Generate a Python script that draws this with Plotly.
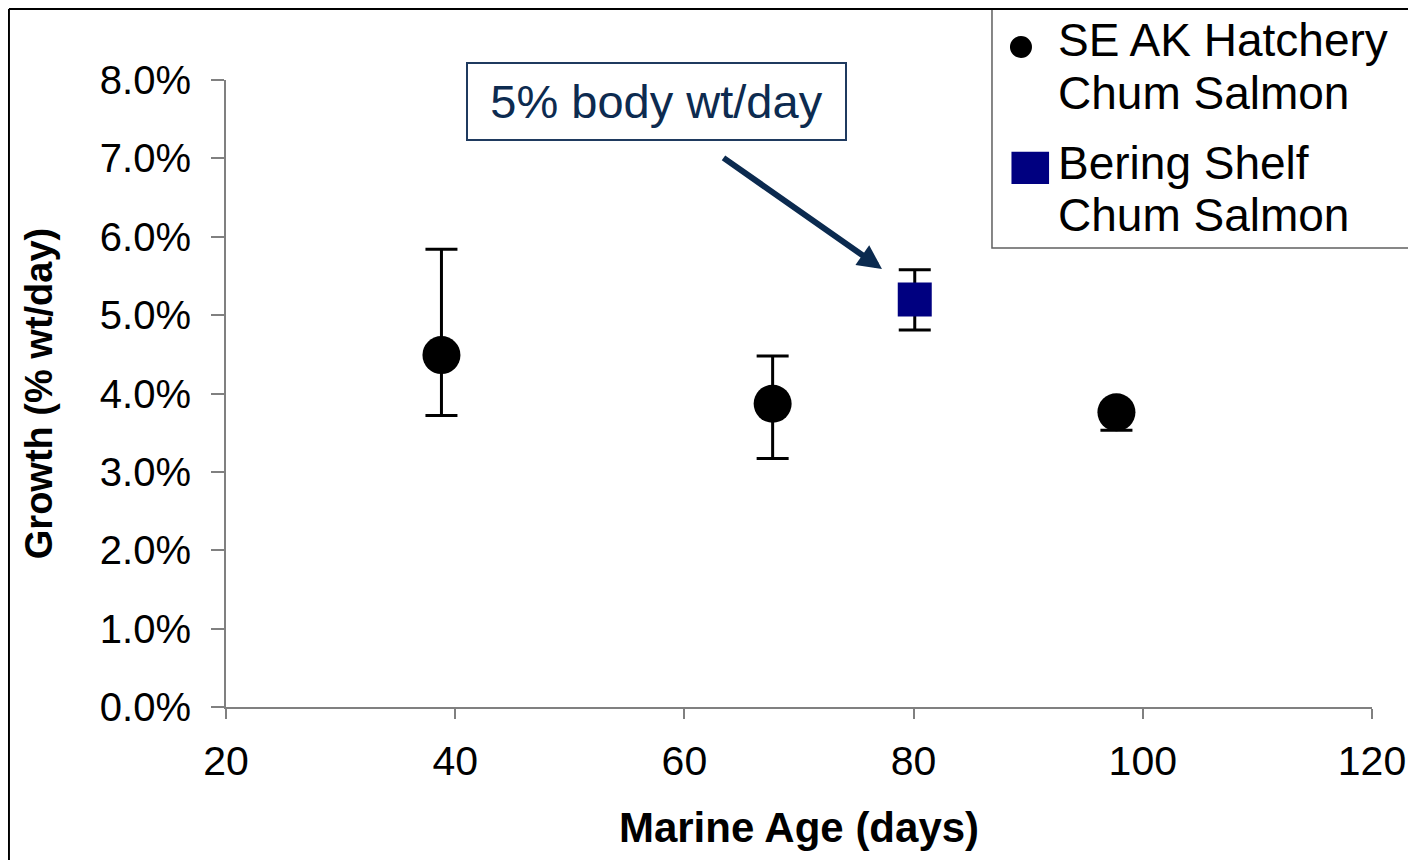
import plotly.graph_objects as go

# ---- data ----
hatchery_age = [38.8, 67.7, 97.7]
hatchery_growth = [0.0449, 0.0387, 0.0376]
hatchery_err_plus = [0.0135, 0.0061, 0.0009]
hatchery_err_minus = [0.0077, 0.0070, 0.0023]

bering_age = [80.1]
bering_growth = [0.0520]
bering_err_plus = [0.0038]
bering_err_minus = [0.0039]

x_ticks = [20, 40, 60, 80, 100, 120]
y_ticks = [0.0, 0.01, 0.02, 0.03, 0.04, 0.05, 0.06, 0.07, 0.08]

legend_lines = ["SE AK Hatchery", "Chum Salmon", "Bering Shelf", "Chum Salmon"]

FONT = "Liberation Sans, Arial, sans-serif"
NAVY_TXT = "#0d2b50"
NAVY = "#000080"

fig = go.Figure()
fig.add_trace(go.Scatter(
    x=hatchery_age, y=hatchery_growth, mode="markers",
    name="SE AK Hatchery Chum Salmon",
    marker=dict(symbol="circle", size=38, color="black"),
    error_y=dict(type="data", symmetric=False, array=hatchery_err_plus,
                 arrayminus=hatchery_err_minus, color="black", thickness=3, width=16),
))
fig.add_trace(go.Scatter(
    x=bering_age, y=bering_growth, mode="markers",
    name="Bering Shelf Chum Salmon",
    marker=dict(symbol="square", size=34, color=NAVY),
    error_y=dict(type="data", symmetric=False, array=bering_err_plus,
                 arrayminus=bering_err_minus, color="black", thickness=3, width=16),
))

fig.update_xaxes(
    range=[20, 120], tickvals=x_ticks, showgrid=False, zeroline=False,
    showline=True, linecolor="#808080", linewidth=2,
    ticks="outside", ticklen=10, tickwidth=1.5, tickcolor="#808080",
    tickfont=dict(family=FONT, size=41, color="black"), ticklabelstandoff=7,
    title=dict(text="<b>Marine Age (days)</b>", font=dict(family=FONT, size=42, color="black"),
               standoff=29),
)
fig.update_yaxes(
    range=[0, 0.08], tickvals=y_ticks, tickformat=".1%", showgrid=False, zeroline=False,
    showline=True, linecolor="#808080", linewidth=2,
    ticks="outside", ticklen=13, tickwidth=1.5, tickcolor="#808080",
    tickfont=dict(family=FONT, size=40, color="black"), ticklabelstandoff=12,
    title=dict(text="<b>Growth (% wt/day)</b>", font=dict(family=FONT, size=38, color="black"),
               standoff=36),
)

# annotation box
fig.add_annotation(
    x=57.57, y=0.07726, xref="x", yref="y", text="5% body wt/day", showarrow=False,
    font=dict(family=FONT, size=47, color=NAVY_TXT),
    bordercolor="#1f3a5f", borderwidth=2, bgcolor="white",
    width=375, height=73, align="center", valign="middle",
)
# arrow
fig.add_annotation(
    x=77.24, y=0.0559, ax=63.28, ay=0.0702, xref="x", yref="y", axref="x", ayref="y",
    text="", showarrow=True, arrowhead=2, arrowsize=0.8, arrowwidth=6,
    arrowcolor="#0b2a4f", standoff=0,
)

# outer frame (top and left edges)
TOP = 1.1132
LEFT = -0.1894
fig.add_shape(type="line", xref="paper", yref="paper", x0=LEFT, x1=1.2, y0=TOP, y1=TOP,
              line=dict(color="black", width=2))
fig.add_shape(type="line", xref="paper", yref="paper", x0=LEFT, x1=LEFT, y0=TOP, y1=-0.4,
              line=dict(color="black", width=2))

# legend box and symbols
fig.add_shape(type="rect", xref="paper", yref="paper", x0=0.6684, x1=1.06, y0=0.7321, y1=TOP,
              line=dict(color="#606060", width=1.5), fillcolor="white", layer="below")
fig.add_shape(type="circle", xref="paper", yref="paper", x0=0.6841, x1=0.7033, y0=1.0351, y1=1.0701,
              line=dict(color="black", width=0), fillcolor="black")
fig.add_shape(type="rect", xref="paper", yref="paper", x0=0.6854, x1=0.7182, y0=0.8341, y1=0.8856,
              line=dict(color=NAVY, width=0), fillcolor=NAVY)
for txt, yy in zip(legend_lines, [1.0638, 0.9793, 0.8676, 0.7847]):
    fig.add_annotation(x=0.7245, y=yy, xref="paper", yref="paper", text=txt, showarrow=False,
                       xanchor="left", yanchor="middle",
                       font=dict(family=FONT, size=46, color="black"))

fig.update_layout(
    width=1408, height=852,
    margin=dict(l=218, r=44, t=72, b=153, autoexpand=False),
    paper_bgcolor="white", plot_bgcolor="white",
    font=dict(family=FONT, color="black"),
    showlegend=False,
)

fig.write_html("out.html")
